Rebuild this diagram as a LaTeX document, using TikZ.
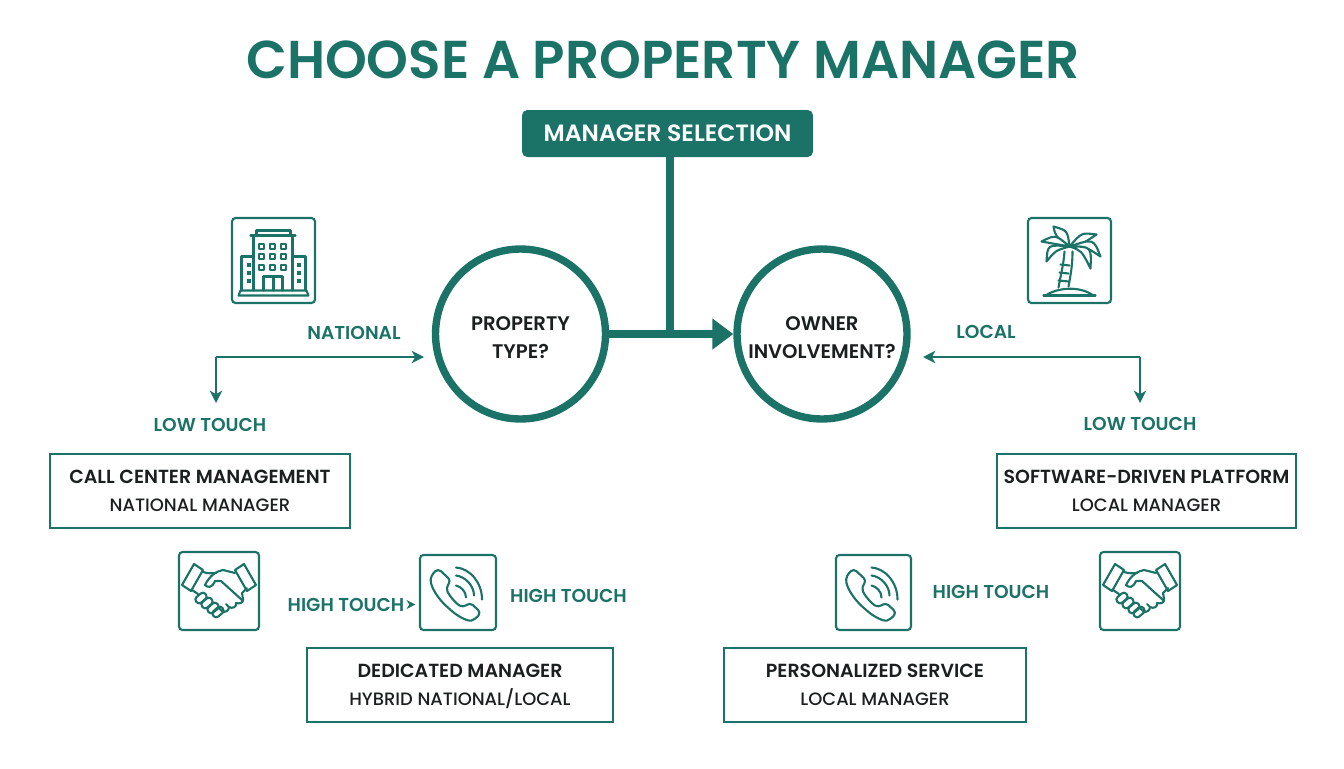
\documentclass[tikz,border=0pt]{standalone}
\usepackage{fontspec}
\setmainfont{Poppins}
\newfontfamily\medfont{Poppins Medium}
\newfontfamily\semifont{Poppins SemiBold}
\newcommand{\headline}{\fontsize{10.8}{16}\selectfont\semifont}
\newcommand{\lowerline}{\rule{0pt}{12pt}}
\usetikzlibrary{arrows.meta}
\definecolor{teal1}{HTML}{1B7266}
\definecolor{ink1}{HTML}{1C1F1F}
\tikzset{
	titletext/.style={text=teal1,font=\fontsize{30.3}{34}\selectfont\semifont},
	banner/.style={fill=teal1,rounded corners=3pt,text=white,minimum width=5.82cm,minimum height=0.94cm,font=\fontsize{13.4}{16}\selectfont\semifont},
	question/.style={circle,draw=teal1,line width=4.2pt,minimum size=3.4cm,align=center,text=ink1,font=\fontsize{11.2}{15.8}\selectfont\semifont},
	tealtext/.style={text=teal1,font=\fontsize{10.6}{13}\selectfont\semifont},
	outcome/.style={draw=teal1,line width=1.2pt,align=center,text=ink1,minimum height=1.48cm,font=\fontsize{10.2}{16}\selectfont\medfont},
	iconbox/.style={draw=teal1,line width=1.2pt,rounded corners=2pt},
	iconline/.style={draw=teal1,line width=1.2pt,line join=round,line cap=round},
	thick connector/.style={draw=teal1,line width=4.2pt},
	thin connector/.style={draw=teal1,line width=1.2pt,-{Stealth[length=7pt,width=7pt,inset=2pt]}},
	pics/building/.style={code={
		\draw[iconline] (-20,30) -- (-20,-25) -- (19,-25) -- (19,30);
		\draw[iconline] (-23,-25) -- (22,-25);
		\draw[iconline] (-17,-25) -- (-17,-30) -- (17,-30) -- (17,-25);
		\draw[iconline] (-20,-4) -- (-32,-4) -- (-32,30);
		\draw[iconline] (19,-4) -- (32,-4) -- (32,30);
		\draw[iconline] (-35,35) -- (-33,30) -- (33,30) -- (35,35) -- cycle;
		\draw[iconline] (-10,30) -- (-10,16) -- (9,16) -- (9,30);
		\draw[iconline] (0,16) -- (0,30);
		\foreach \winx in {-12,-1,10}
			\foreach \winy in {-14,-4,7}
				\draw[iconline] (\winx-2.2,\winy-2.2) rectangle (\winx+2.2,\winy+2.2);
		\foreach \winx in {-25,25}
			\foreach \winy in {4,12,20}
				\fill[teal1] (\winx-2,\winy-2) rectangle (\winx+2,\winy+2);
	}},
	pics/palmtree/.style={code={
		%Island
		\draw[iconline] (-26,35) -- (26,35);
		\draw[iconline] (-24,35) .. controls (-12,27) and (10,25) .. (24,35);
		%Trunk
		\draw[iconline] (-5,-9) .. controls (-6,5) and (-9,15) .. (-11,27);
		\draw[iconline] (3,-9) .. controls (3,5) and (1,15) .. (-1,26);
		\draw[iconline] (-9,4) -- (0,5);
		\draw[iconline] (-10,12) -- (-1,13);
		\draw[iconline] (-11,20) -- (-1,21);
		%Leaves
		\foreach \tipx/\tipy/\ax/\ay/\bx/\by in {-16/-34/-2/-30/-14/-24,-28/-19/-14/-26/-14/-17,-23/1/-22/-16/-14/-10,27/-26/12/-28/12/-16,31/-4/24/-22/16/-14,21/8/22/-14/12/-10}
			\draw[iconline,fill=white] (0,-14) .. controls (\ax,\ay) .. (\tipx,\tipy) .. controls (\bx,\by) .. (0,-14);
	}},
	pics/handshake/.style={code={
		%Cuffs
		\draw[iconline] (-25,-27) -- (-16,-21) -- (-28,0) -- (-37,-6) -- cycle;
		\draw[iconline] (16,-21) -- (25,-27) -- (37,-6) -- (28,0) -- cycle;
		%Hands
		\draw[iconline] (-16,-19) .. controls (-10,-17) and (-6,-18) .. (-3,-18);
		\draw[iconline] (-14,-6) .. controls (-9,-16) and (-2,-20) .. (4,-21) -- (16,-18);
		\draw[iconline] (-14,-6) .. controls (-11,-3) and (-7,-3) .. (-4,-10) -- (2,-10) -- (23,9);
		\draw[iconline] (28,-3) -- (23,2) -- (24,8) .. controls (25,12) and (20,13) .. (17,12);
		\draw[iconline] (17,12) .. controls (18,16) and (13,18) .. (10,16) -- (7,13);
		\draw[iconline] (10,16) .. controls (10,20) and (6,22) .. (3,20) -- (0,17);
		\draw[iconline] (-27,-1) -- (-21,3);
		%Fingers
		\foreach \fingx/\fingy in {-18/7,-12/12,-6/17,-1/21}
			\draw[iconline,rounded corners=1.8pt,rotate around={40:(\fingx,\fingy)}] (\fingx-6,\fingy-3.6) rectangle (\fingx+6,\fingy+3.6);
	}},
	pics/phone/.style={code={
		\draw[iconline,rounded corners=2.2pt] (-20,-24) -- (-27,-17) .. controls (-28,-5) and (-18,8) .. (-9,16) .. controls (0,24) and (10,29) .. (17,27) -- (23,20) -- (12,10) -- (5,15) .. controls (-2,11) and (-9,3) .. (-12,-5) -- (-7,-12) -- cycle;
		\draw[iconline] (-2,-25) .. controls (12,-24) and (24,-10) .. (24,7);
		\draw[iconline] (-2,-17) .. controls (7,-16) and (16,-7) .. (16,3);
		\draw[iconline] (-2,-7) .. controls (3,-6) and (8,-1) .. (8,5);
	}}
}
\begin{document}
\begin{tikzpicture}[x=0.02cm,y=-0.02cm]
	\useasboundingbox (0,0) rectangle (1344,768);
	%Title
		\node[titletext] (title) at (663,60) {CHOOSE A PROPERTY MANAGER};
	%Top of the tree
		\node[banner] (selection) at (667.5,133.5) {MANAGER SELECTION};
		\node[question] (propertytype) at (520.5,334) {\lowerline PROPERTY\\TYPE?};
		\node[question] (ownerinvolvement) at (822,334) {\lowerline OWNER\\INVOLVEMENT?};
		\coordinate (junction) at (670,334);
		\draw [thick connector] (selection.south -| junction) -- (junction);
		\draw [thick connector,-{Triangle[length=12pt,width=17pt]}] (propertytype) -- (ownerinvolvement);
	%National side
		\node[iconbox,minimum width=1.66cm,minimum height=1.7cm] (buildingicon) at (273.5,260.5) {};
		\pic at (buildingicon.center) {building};
		\node[tealtext] (national) at (354,333) {NATIONAL};
		\node[tealtext] (lownational) at (210,424.5) {LOW TOUCH};
		\coordinate (nationalcorner) at (216,357);
		\coordinate (nationalend) at (424,357);
		\coordinate (lownationalend) at (216,403);
		\draw [thin connector] (nationalcorner) -- (nationalend);
		\draw [thin connector] (nationalcorner) -- (lownationalend);
		\node[outcome,minimum width=6cm] (callcenter) at (200,491) {{\headline CALL CENTER MANAGEMENT}\\NATIONAL MANAGER};
		\node[iconbox,minimum width=1.6cm,minimum height=1.56cm] (handshakeleft) at (219,591) {};
		\pic at (handshakeleft.center) {handshake};
		\node[tealtext] (highleft) at (346,604.5) {HIGH TOUCH};
		\node[iconbox,minimum width=1.52cm,minimum height=1.5cm] (phoneleft) at (458,592.5) {};
		\pic at (phoneleft.center) {phone};
		\draw [thin connector,-{Stealth[length=5pt,width=5pt,inset=1.5pt]},shorten >=2pt] (highleft) -- (phoneleft.west |- highleft);
		\node[tealtext] (highmiddle) at (568.5,596) {HIGH TOUCH};
		\node[outcome,minimum width=6.12cm] (dedicated) at (460,685) {{\headline DEDICATED MANAGER}\\HYBRID NATIONAL\smash{/}LOCAL};
	%Local side
		\node[iconbox,minimum width=1.66cm,minimum height=1.7cm] (palmicon) at (1069.5,260.5) {};
		\pic at (palmicon.center) {palmtree};
		\node[tealtext] (local) at (986,332) {LOCAL};
		\node[tealtext] (lowlocal) at (1140,424) {LOW TOUCH};
		\coordinate (localcorner) at (1140,357);
		\coordinate (localend) at (923,357);
		\coordinate (lowlocalend) at (1140,403);
		\draw [thin connector] (localcorner) -- (localend);
		\draw [thin connector] (localcorner) -- (lowlocalend);
		\node[outcome,minimum width=5.98cm] (software) at (1146.5,491) {{\headline SOFTWARE-DRIVEN PLATFORM}\\LOCAL MANAGER};
		\node[iconbox,minimum width=1.6cm,minimum height=1.56cm] (handshakeright) at (1140,591) {};
		\pic at (handshakeright.center) {handshake};
		\node[iconbox,minimum width=1.5cm,minimum height=1.5cm] (phoneright) at (873.5,592.5) {};
		\pic at (phoneright.center) {phone};
		\node[tealtext] (highright) at (991,592) {HIGH TOUCH};
		\node[outcome,minimum width=6.04cm] (personalized) at (875,685) {{\headline PERSONALIZED SERVICE}\\LOCAL MANAGER};
\end{tikzpicture}
\end{document}
